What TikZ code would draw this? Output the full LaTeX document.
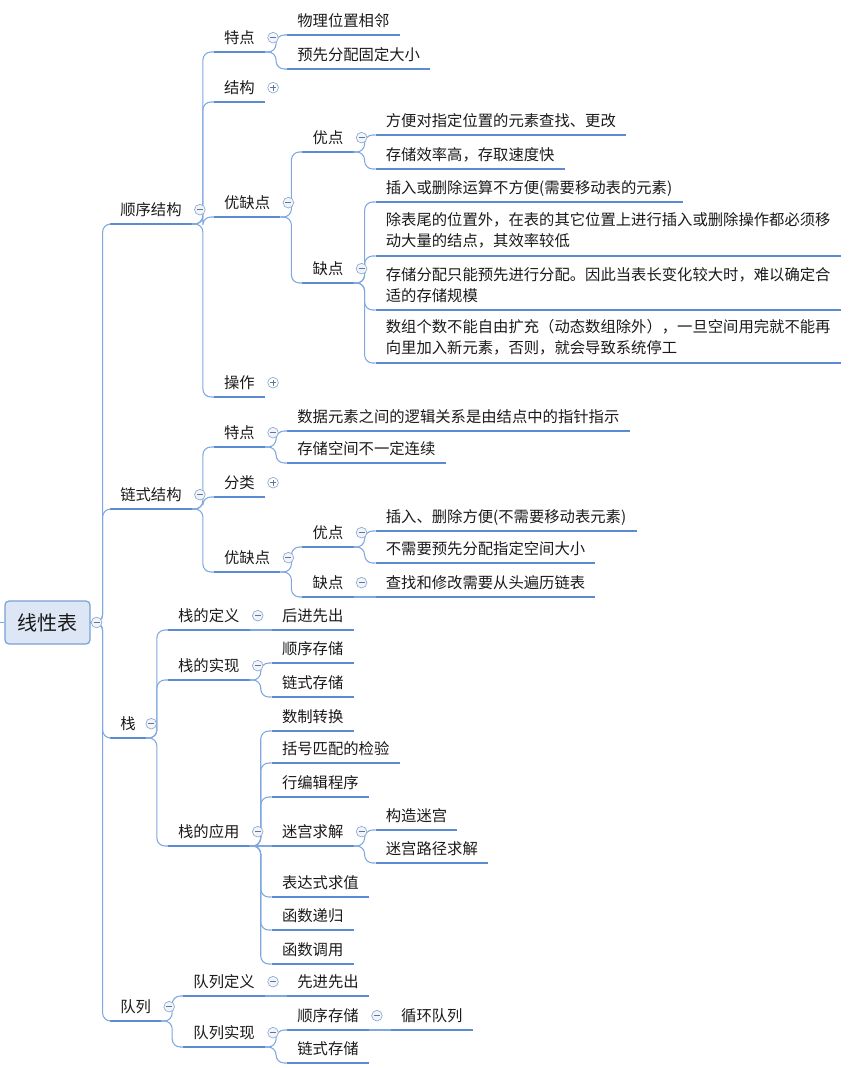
\documentclass[tikz,border=0pt]{standalone}
\usepackage{fontspec}
\setmainfont{Noto Sans CJK SC}
\usetikzlibrary{calc}
\definecolor{MapLine}{HTML}{5B8BD2}
\definecolor{MapLink}{HTML}{7FA7E0}
\definecolor{MapRoot}{HTML}{DCE6F4}
\definecolor{MapEdge}{HTML}{78A0D8}
\definecolor{MapMark}{HTML}{8FA9CF}
\definecolor{MapKnob}{HTML}{F1F5FB}
\definecolor{MapText}{HTML}{1A1A1A}

\tikzset{
  uline/.style={draw=MapLine, line width=2.1pt},
  bar/.style={anchor=south west, inner xsep=7.5pt, text=MapText,
    font=\fontsize{11.5pt}{15.75pt}\selectfont,
    append after command={(\tikzlastnode.south west) edge[uline] (\tikzlastnode.south east)}},
  topic/.style={bar, inner ysep=6.3pt, text height=8.5pt, text depth=0pt},
  para/.style={bar, inner ysep=5.5pt, align=left},
  kid/.style={xshift=16.5pt},
  link/.style={draw=MapLink, line width=0.8pt, rounded corners=6pt},
  shut/.style={circle, draw=MapMark, fill=MapKnob, line width=0.5pt,
    minimum size=8pt, inner sep=0pt,
    path picture={\draw[MapMark!70!black, line width=0.7pt]
      ([xshift=-2.2pt]path picture bounding box.center) --
      ([xshift=2.2pt]path picture bounding box.center);}},
  open/.style={shut, fill=white,
    path picture={\draw[MapMark!70!black, line width=0.7pt]
      ([xshift=-2.2pt]path picture bounding box.center) --
      ([xshift=2.2pt]path picture bounding box.center)
      ([yshift=-2.2pt]path picture bounding box.center) --
      ([yshift=2.2pt]path picture bounding box.center);}},
  root/.style={draw=MapEdge, fill=MapRoot, rounded corners=3pt, line width=0.9pt,
    minimum width=63.75pt, minimum height=32.25pt, text=MapText,
    font=\fontsize{15pt}{18pt}\selectfont}
}

\begin{document}
\begin{tikzpicture}[x=0.75pt, y=-0.75pt]
  \useasboundingbox (0,0) rectangle (851,1068);

  % root
  \node[root] (xxb) at (47.5,622.5) {线性表};
  \coordinate (tail) at (0,622.5);
  \draw[link] (tail) -- (xxb);

  % first level
  \node[topic] (sx) at (110,224) {顺序结构};
  \node[topic] (ls) at (110,509) {链式结构};
  \node[topic] (zh) at (110,738) {栈};
  \node[topic] (dl) at (110,1021) {队列};

  % 顺序结构
  \node[topic, kid] (sxtd) at (sx.south east |- 0,52) {特点};
  \node[topic, kid] (sxjg) at (sx.south east |- 0,102) {结构};
  \node[topic, kid] (sxyq) at (sx.south east |- 0,217) {优缺点};
  \node[topic, kid] (sxcz) at (sx.south east |- 0,397) {操作};
  \node[topic, kid] (sxtd1) at (sxtd.south east |- 0,35) {物理位置相邻};
  \node[topic, kid] (sxtd2) at (sxtd.south east |- 0,69) {预先分配固定大小};
  \node[topic, kid] (sxyd) at (sxyq.south east |- 0,152) {优点};
  \node[topic, kid] (sxqd) at (sxyq.south east |- 0,283) {缺点};
  \node[topic, kid] (sxyd1) at (sxyd.south east |- 0,135) {方便对指定位置的元素查找、更改};
  \node[topic, kid] (sxyd2) at (sxyd.south east |- 0,169) {存储效率高，存取速度快};
  \node[topic, kid] (sxqd1) at (sxqd.south east |- 0,202) {插入或删除运算不方便(需要移动表的元素)};
  \node[para, kid] (sxqd2) at (sxqd.south east |- 0,256)
    {除表尾的位置外，在表的其它位置上进行插入或删除操作都必须移\\动大量的结点，其效率较低};
  \node[para, kid] (sxqd3) at (sxqd.south east |- 0,310)
    {存储分配只能预先进行分配。因此当表长变化较大时，难以确定合\\适的存储规模};
  \node[para, kid] (sxqd4) at (sxqd.south east |- 0,363)
    {数组个数不能自由扩充（动态数组除外），一旦空间用完就不能再\\向里加入新元素，否则，就会导致系统停工};

  % 链式结构
  \node[topic, kid] (lstd) at (ls.south east |- 0,447) {特点};
  \node[topic, kid] (lsfl) at (ls.south east |- 0,497) {分类};
  \node[topic, kid] (lsyq) at (ls.south east |- 0,572) {优缺点};
  \node[topic, kid] (lstd1) at (lstd.south east |- 0,431) {数据元素之间的逻辑关系是由结点中的指针指示};
  \node[topic, kid] (lstd2) at (lstd.south east |- 0,463) {存储空间不一定连续};
  \node[topic, kid] (lsyd) at (lsyq.south east |- 0,547) {优点};
  \node[topic, kid] (lsqd) at (lsyq.south east |- 0,597) {缺点};
  \node[topic, kid] (lsyd1) at (lsyd.south east |- 0,531) {插入、删除方便(不需要移动表元素)};
  \node[topic, kid] (lsyd2) at (lsyd.south east |- 0,563) {不需要预先分配指定空间大小};
  \node[topic, kid] (lsqd1) at (lsqd.south east |- 0,597) {查找和修改需要从头遍历链表};

  % 栈
  \node[topic, kid] (zhdy) at (zh.south east |- 0,630) {栈的定义};
  \node[topic, kid] (zhsx) at (zh.south east |- 0,680) {栈的实现};
  \node[topic, kid] (zhyy) at (zh.south east |- 0,846) {栈的应用};
  \node[topic, kid] (zhdy1) at (zhdy.south east |- 0,630) {后进先出};
  \node[topic, kid] (zhsx1) at (zhsx.south east |- 0,663) {顺序存储};
  \node[topic, kid] (zhsx2) at (zhsx.south east |- 0,697) {链式存储};
  \node[topic, kid] (zhyy1) at (zhyy.south east |- 0,731) {数制转换};
  \node[topic, kid] (zhyy2) at (zhyy.south east |- 0,763) {括号匹配的检验};
  \node[topic, kid] (zhyy3) at (zhyy.south east |- 0,797) {行编辑程序};
  \node[topic, kid] (zhyy4) at (zhyy.south east |- 0,846) {迷宫求解};
  \node[topic, kid] (zhyy5) at (zhyy.south east |- 0,897) {表达式求值};
  \node[topic, kid] (zhyy6) at (zhyy.south east |- 0,930) {函数递归};
  \node[topic, kid] (zhyy7) at (zhyy.south east |- 0,964) {函数调用};
  \node[topic, kid] (mg1) at (zhyy4.south east |- 0,830) {构造迷宫};
  \node[topic, kid] (mg2) at (zhyy4.south east |- 0,863) {迷宫路径求解};

  % 队列
  \node[topic, kid] (dldy) at (dl.south east |- 0,996) {队列定义};
  \node[topic, kid] (dlsx) at (dl.south east |- 0,1047) {队列实现};
  \node[topic, kid] (dldy1) at (dldy.south east |- 0,996) {先进先出};
  \node[topic, kid] (dlsx1) at (dlsx.south east |- 0,1030) {顺序存储};
  \node[topic, kid] (dlsx2) at (dlsx.south east |- 0,1063) {链式存储};
  \node[topic, kid] (xhdl) at (dlsx1.south east |- 0,1030) {循环队列};

  % connectors
  \draw[link] (xxb.east) -- ++(12,0) |- (sx.south west);
  \draw[link] (xxb.east) -- ++(12,0) |- (ls.south west);
  \draw[link] (xxb.east) -- ++(12,0) |- (zh.south west);
  \draw[link] (xxb.east) -- ++(12,0) |- (dl.south west);

  \draw[link] (sx.south east) -- ++(11,0) |- (sxtd.south west);
  \draw[link] (sx.south east) -- ++(11,0) |- (sxjg.south west);
  \draw[link] (sx.south east) -- ++(11,0) |- (sxyq.south west);
  \draw[link] (sx.south east) -- ++(11,0) |- (sxcz.south west);
  \draw[link] (sxtd.south east) -- ++(11,0) |- (sxtd1.south west);
  \draw[link] (sxtd.south east) -- ++(11,0) |- (sxtd2.south west);
  \draw[link] (sxyq.south east) -- ++(11,0) |- (sxyd.south west);
  \draw[link] (sxyq.south east) -- ++(11,0) |- (sxqd.south west);
  \draw[link] (sxyd.south east) -- ++(11,0) |- (sxyd1.south west);
  \draw[link] (sxyd.south east) -- ++(11,0) |- (sxyd2.south west);
  \draw[link] (sxqd.south east) -- ++(11,0) |- (sxqd1.south west);
  \draw[link] (sxqd.south east) -- ++(11,0) |- (sxqd2.south west);
  \draw[link] (sxqd.south east) -- ++(11,0) |- (sxqd3.south west);
  \draw[link] (sxqd.south east) -- ++(11,0) |- (sxqd4.south west);

  \draw[link] (ls.south east) -- ++(11,0) |- (lstd.south west);
  \draw[link] (ls.south east) -- ++(11,0) |- (lsfl.south west);
  \draw[link] (ls.south east) -- ++(11,0) |- (lsyq.south west);
  \draw[link] (lstd.south east) -- ++(11,0) |- (lstd1.south west);
  \draw[link] (lstd.south east) -- ++(11,0) |- (lstd2.south west);
  \draw[link] (lsyq.south east) -- ++(11,0) |- (lsyd.south west);
  \draw[link] (lsyq.south east) -- ++(11,0) |- (lsqd.south west);
  \draw[link] (lsyd.south east) -- ++(11,0) |- (lsyd1.south west);
  \draw[link] (lsyd.south east) -- ++(11,0) |- (lsyd2.south west);
  \draw[link] (lsqd.south east) -- (lsqd1.south west);

  \draw[link] (zh.south east) -- ++(11,0) |- (zhdy.south west);
  \draw[link] (zh.south east) -- ++(11,0) |- (zhsx.south west);
  \draw[link] (zh.south east) -- ++(11,0) |- (zhyy.south west);
  \draw[link] (zhdy.south east) -- (zhdy1.south west);
  \draw[link] (zhsx.south east) -- ++(11,0) |- (zhsx1.south west);
  \draw[link] (zhsx.south east) -- ++(11,0) |- (zhsx2.south west);
  \draw[link] (zhyy.south east) -- ++(11,0) |- (zhyy1.south west);
  \draw[link] (zhyy.south east) -- ++(11,0) |- (zhyy2.south west);
  \draw[link] (zhyy.south east) -- ++(11,0) |- (zhyy3.south west);
  \draw[link] (zhyy.south east) -- (zhyy4.south west);
  \draw[link] (zhyy.south east) -- ++(11,0) |- (zhyy5.south west);
  \draw[link] (zhyy.south east) -- ++(11,0) |- (zhyy6.south west);
  \draw[link] (zhyy.south east) -- ++(11,0) |- (zhyy7.south west);
  \draw[link] (zhyy4.south east) -- ++(11,0) |- (mg1.south west);
  \draw[link] (zhyy4.south east) -- ++(11,0) |- (mg2.south west);

  \draw[link] (dl.south east) -- ++(11,0) |- (dldy.south west);
  \draw[link] (dl.south east) -- ++(11,0) |- (dlsx.south west);
  \draw[link] (dldy.south east) -- (dldy1.south west);
  \draw[link] (dlsx.south east) -- ++(11,0) |- (dlsx1.south west);
  \draw[link] (dlsx.south east) -- ++(11,0) |- (dlsx2.south west);
  \draw[link] (dlsx1.south east) -- (xhdl.south west);

  % fold markers
  \node[shut] (kxxb) at ([xshift=4.5pt]xxb.east) {};
  \node[shut] (ksx) at ([xshift=6pt]sx.east) {};
  \node[shut] (kls) at ([xshift=6pt]ls.east) {};
  \node[shut] (kzh) at ([xshift=4pt]zh.east) {};
  \node[shut] (kdl) at ([xshift=6pt]dl.east) {};
  \node[shut] (ksxtd) at ([xshift=6pt]sxtd.east) {};
  \node[open] (ksxjg) at ([xshift=6pt]sxjg.east) {};
  \node[shut] (ksxyq) at ([xshift=6pt]sxyq.east) {};
  \node[open] (ksxcz) at ([xshift=6pt]sxcz.east) {};
  \node[shut] (ksxyd) at ([xshift=6pt]sxyd.east) {};
  \node[shut] (ksxqd) at ([xshift=6pt]sxqd.east) {};
  \node[shut] (klstd) at ([xshift=6pt]lstd.east) {};
  \node[open] (klsfl) at ([xshift=6pt]lsfl.east) {};
  \node[shut] (klsyq) at ([xshift=6pt]lsyq.east) {};
  \node[shut] (klsyd) at ([xshift=6pt]lsyd.east) {};
  \node[shut] (klsqd) at ([xshift=6pt]lsqd.east) {};
  \node[shut] (kzhdy) at ([xshift=6pt]zhdy.east) {};
  \node[shut] (kzhsx) at ([xshift=6pt]zhsx.east) {};
  \node[shut] (kzhyy) at ([xshift=6pt]zhyy.east) {};
  \node[shut] (kzhyy4) at ([xshift=6pt]zhyy4.east) {};
  \node[shut] (kdldy) at ([xshift=6pt]dldy.east) {};
  \node[shut] (kdlsx) at ([xshift=6pt]dlsx.east) {};
  \node[shut] (kdlsx1) at ([xshift=6pt]dlsx1.east) {};
\end{tikzpicture}
\end{document}
